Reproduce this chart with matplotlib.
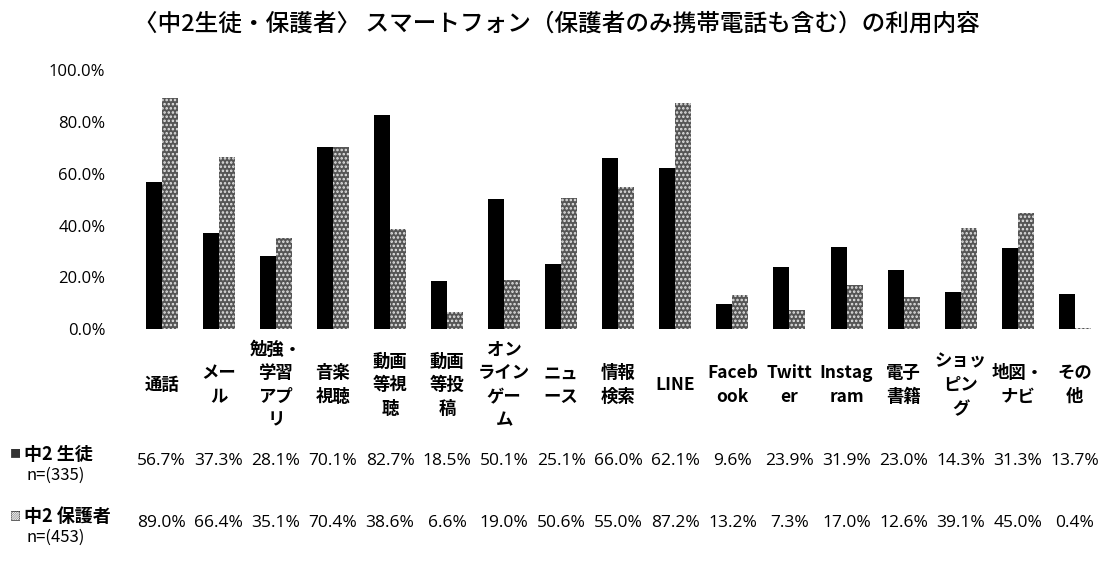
import numpy as np
import matplotlib.pyplot as plt

plt.rcParams['font.family'] = ['Noto Sans CJK JP', 'DejaVu Sans']
plt.rcParams['hatch.linewidth'] = 1.2

TITLE = "〈中2生徒・保護者〉 スマートフォン（保護者のみ携帯電話も含む）の利用内容"

categories = ["通話", "メー\nル", "勉強・\n学習\nアプ\nリ", "音楽\n視聴", "動画\n等視\n聴",
              "動画\n等投\n稿", "オン\nライン\nゲー\nム", "ニュ\nース", "情報\n検索", "LINE",
              "Faceb\nook", "Twitt\ner", "Instag\nram", "電子\n書籍", "ショッ\nピン\nグ",
              "地図・\nナビ", "その\n他"]

student = [56.7, 37.3, 28.1, 70.1, 82.7, 18.5, 50.1, 25.1, 66.0, 62.1,
           9.6, 23.9, 31.9, 23.0, 14.3, 31.3, 13.7]
parent = [89.0, 66.4, 35.1, 70.4, 38.6, 6.6, 19.0, 50.6, 55.0, 87.2,
          13.2, 7.3, 17.0, 12.6, 39.1, 45.0, 0.4]

series_names = ["中2 生徒", "中2 保護者"]
series_n = ["n=(335)", "n=(453)"]

fig = plt.figure(figsize=(11.10, 5.63), dpi=100)
ax_rect = [0.120, 0.415, 0.874, 0.461]
ax = fig.add_axes(ax_rect)

x = np.arange(len(categories))
bw = 0.28
ax.bar(x - bw / 2, student, width=bw, color="black", linewidth=0)
ax.bar(x + bw / 2, parent, width=bw, facecolor="#555555", edgecolor="#e6e6e6",
       hatch="....", linewidth=0)

ax.set_xlim(-0.5, len(categories) - 0.5)
ax.set_ylim(0, 100)
ax.set_yticks(np.arange(0, 101, 20))
ax.set_yticklabels([f"{v:.1f}%" for v in np.arange(0, 101, 20)], fontsize=12,
                   family=["Open Sans", "DejaVu Sans"])
ax.tick_params(axis="y", length=0, pad=20)
ax.set_xticks([])
for s in ax.spines.values():
    s.set_visible(False)

fig.text(0.502, 0.958, TITLE, ha="center", va="center", fontsize=17,
         fontweight="medium")

# category labels under the bars
lab_tr = ax.get_xaxis_transform()
for i, c in enumerate(categories):
    ax.text(i, -0.215, c, transform=lab_tr, ha="center", va="center",
            fontsize=12.5, fontweight="bold", linespacing=1.4, clip_on=False)

# data table rows
row_y = [-0.507, -0.746]
markers = ["■", "▨"]
for r, vals in enumerate([student, parent]):
    y = row_y[r]
    for i, v in enumerate(vals):
        ax.text(i, y, f"{v:.1f}%", transform=lab_tr, ha="center", va="center",
                fontsize=12.5, family=["Open Sans", "DejaVu Sans"], clip_on=False)
    fy = ax_rect[1] + ax_rect[3] * y
    fig.text(0.009, fy + 0.012, markers[r], ha="left", va="center", fontsize=8,
             color="#333333")
    fig.text(0.022, fy + 0.012, series_names[r], ha="left", va="center",
             fontsize=13, fontweight="bold")
    fig.text(0.024, fy - 0.026, series_n[r], ha="left", va="center", fontsize=12)

fig.savefig("out.png", dpi=100)
